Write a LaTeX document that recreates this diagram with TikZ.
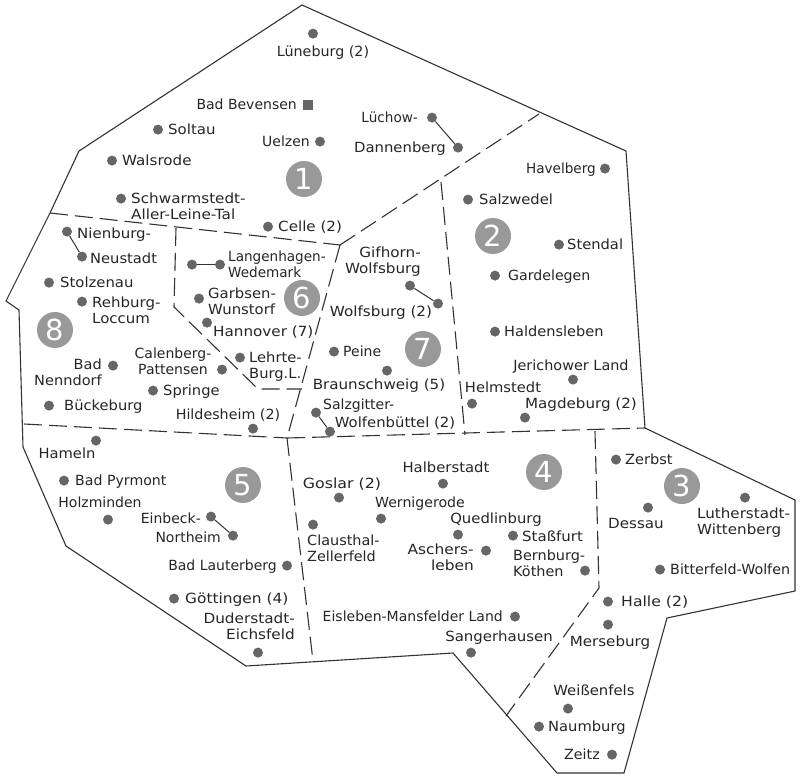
\documentclass[tikz,border=0pt]{standalone}
\usepackage{fontspec}
\setmainfont{DejaVu Sans}
\definecolor{dotc}{HTML}{666666}
\definecolor{numc}{HTML}{999999}
\definecolor{linec}{HTML}{333333}
\definecolor{txtc}{HTML}{262626}
\newcommand\st{\rule[-3pt]{0pt}{13pt}}
\tikzset{
  dot/.style={circle,fill=dotc,draw=none,minimum size=10pt,inner sep=0pt,yshift=-0.6pt},
  sq/.style={rectangle,fill=dotc,draw=none,minimum size=10pt,inner sep=0pt,yshift=-0.6pt},
  lbl/.style={inner sep=0pt,yshift=-1.3pt,text=txtc,font=\fontsize{14}{16}\selectfont,execute at begin node=\st,execute at end node=\st},
  fs/.style={font=\fontsize{14}{16}\selectfont\addfontfeatures{FakeStretch=#1}},
  num/.style={circle,fill=numc,draw=none,minimum size=36pt,inner sep=0pt,text=white,font=\fontsize{29}{32}\selectfont},
  border/.style={draw=linec,line width=1.1pt,line join=miter},
  zone/.style={draw=linec,line width=1.1pt,dash pattern=on 18pt off 7pt},
  link/.style={draw=linec,line width=1pt}
}
\begin{document}
\begin{tikzpicture}[x=1pt,y=-1pt]
\useasboundingbox[fill=white] (0,0) rectangle (800,779);
% outline
\coordinate (o1) at (302,5);
\coordinate (o2) at (626,151);
\coordinate (o3) at (645,428);
\coordinate (o4) at (795,500);
\coordinate (o5) at (795,591);
\coordinate (o6) at (667,618);
\coordinate (o7) at (624,773);
\coordinate (o8) at (557,773);
\coordinate (o9) at (453,653);
\coordinate (o10) at (246,666);
\coordinate (o11) at (66,546);
\coordinate (o12) at (23,447);
\coordinate (o13) at (19,310);
\coordinate (o14) at (6,301);
\coordinate (o15) at (50,213);
\coordinate (o16) at (79,151);
\draw[border] (o1)--(o2)--(o3)--(o4)--(o5)--(o6)--(o7)--(o8)--(o9)--(o10)--(o11)--(o12)--(o13)--(o14)--(o15)--(o16)--cycle;
% zone boundaries
\coordinate (j1) at (340,245);
\coordinate (j2) at (287,438);
\coordinate (a1) at (539,114);
\coordinate (c1) at (24,424);
\coordinate (d1) at (313,661);
\coordinate (e1) at (441,182);
\coordinate (e2) at (465,435);
\coordinate (f1) at (595,431);
\coordinate (f2) at (599,588);
\coordinate (f3) at (506,716);
\coordinate (g1) at (176,228);
\coordinate (g2) at (174,307);
\coordinate (g3) at (258,389);
\coordinate (g4) at (302,389);
\draw[zone] (o15)--(j1);
\draw[zone] (j1)--(a1);
\draw[zone] (j1)--(j2);
\draw[zone] (c1)--(j2);
\draw[zone] (j2)--(o3);
\draw[zone] (j2)--(d1);
\draw[zone] (e1)--(e2);
\draw[zone] (f1)--(f2)--(f3);
\draw[zone] (g1)--(g2)--(g3)--(g4);
% numbers
\node[num] (n1) at (304,179) {1};
\node[num] (n2) at (493,236) {2};
\node[num] (n3) at (682,486) {3};
\node[num] (n4) at (544,472) {4};
\node[num] (n5) at (243,485) {5};
\node[num] (n6) at (302,298) {6};
\node[num] (n7) at (423,349) {7};
\node[num] (n8) at (55,330) {8};
% dots and labels
\node[dot] (d01) at (313,33) {};
\node[lbl,fs=1.02] (t01) at (323,51) {Lüneburg (2)};
\node[sq] (d02) at (308,104) {};
\node[lbl,anchor=east] (t02) at (297,104) {Bad Bevensen};
\node[dot] (d03) at (158,129) {};
\node[lbl,fs=1.07,anchor=west] (t03) at (168,129) {Soltau};
\node[dot] (d04) at (320,141) {};
\node[lbl,anchor=east] (t04) at (310,141) {Uelzen};
\node[dot] (d05) at (112,160) {};
\node[lbl,fs=1.08,anchor=west] (t05) at (122,160) {Walsrode};
\node[dot] (d06a) at (432,117) {};
\node[lbl,fs=0.97,anchor=east] (t06a) at (418,117) {Lüchow-};
\node[dot] (d06b) at (458,147) {};
\node[lbl,fs=1.06,anchor=east] (t06b) at (446,147) {Dannenberg};
\draw[link] (d06a)--(d06b);
\node[dot] (d07) at (605,168) {};
\node[lbl,fs=0.97,anchor=east] (t07) at (596,168) {Havelberg};
\node[dot] (d08) at (468,199) {};
\node[lbl,fs=1.05,anchor=west] (t08) at (479,199) {Salzwedel};
\node[dot] (d09) at (121,198) {};
\node[lbl,fs=1.085,anchor=west,align=left] (t09) at (131,206) {Schwarmstedt-\\Aller-Leine-Tal};
\node[dot] (d10) at (268,226) {};
\node[lbl,fs=1.08,anchor=west] (t10) at (278,226) {Celle (2)};
\node[dot] (d11) at (559,244) {};
\node[lbl,fs=1.05,anchor=west] (t11) at (567,244) {Stendal};
\node[dot] (d12a) at (67,231) {};
\node[lbl,fs=1.07,anchor=west] (t12a) at (77,233) {Nienburg-};
\node[dot] (d12b) at (82,256) {};
\node[lbl,fs=1.05,anchor=west] (t12b) at (90,258) {Neustadt};
\draw[link] (d12a)--(d12b);
\node[dot] (d13a) at (192,264) {};
\node[dot] (d13b) at (220,264) {};
\draw[link] (d13a)--(d13b);
\node[lbl,fs=0.97,anchor=west,align=left] (t13) at (228,264) {Langenhagen-\\Wedemark};
\node[lbl,fs=1.085,anchor=east,align=right] (t14) at (421,260) {Gifhorn-\\Wolfsburg};
\node[dot] (d15) at (495,275) {};
\node[lbl,fs=1.01,anchor=west] (t15) at (508,275) {Gardelegen};
\node[dot] (d16) at (49,282) {};
\node[lbl,fs=1.06,anchor=west] (t16) at (60,282) {Stolzenau};
\node[dot] (d17) at (82,301) {};
\node[lbl,fs=1.07,anchor=west,align=left] (t17) at (92,310) {Rehburg-\\Loccum};
\node[dot] (d18) at (199,298) {};
\node[lbl,fs=1.06,anchor=west,align=left] (t18) at (208,301) {Garbsen-\\Wunstorf};
\node[dot] (d19a) at (410,285) {};
\node[dot] (d19b) at (438,303) {};
\draw[link] (d19a)--(d19b);
\node[lbl,fs=1.085] (t19) at (381,311) {Wolfsburg (2)};
\node[dot] (d20) at (207,322) {};
\node[lbl,fs=1.085,anchor=west] (t20) at (213,331) {Hannover (7)};
\node[dot] (d21) at (495,331) {};
\node[lbl,fs=1.04,anchor=west] (t21) at (504,331) {Haldensleben};
\node[dot] (d22) at (334,351) {};
\node[lbl,anchor=west] (t22) at (343,351) {Peine};
\node[dot] (d23) at (240,357) {};
\node[lbl,fs=1.05,anchor=west,align=left] (t23) at (249,365) {Lehrte-\\Burg.L.};
\node[dot] (d24) at (222,369) {};
\node[lbl,align=center] (t24) at (173,361) {Calenberg-\\Pattensen};
\node[dot] (d25) at (113,365) {};
\node[lbl,fs=1.04,anchor=east,align=right] (t25) at (102,372) {Bad\\Nenndorf};
\node[dot] (d26) at (387,370) {};
\node[lbl,fs=1.08] (t26) at (379,384) {Braunschweig (5)};
\node[dot] (d27) at (573,379) {};
\node[lbl,fs=1.03] (t27) at (571,365) {Jerichower Land};
\node[dot] (d28) at (153,390) {};
\node[lbl,fs=1.05,anchor=west] (t28) at (163,390) {Springe};
\node[dot] (d29) at (472,403) {};
\node[lbl,fs=1.05] (t29) at (503,387) {Helmstedt};
\node[dot] (d30) at (49,405) {};
\node[lbl,fs=1.05,anchor=west] (t30) at (64,405) {Bückeburg};
\node[dot] (d31a) at (316,412) {};
\node[dot] (d31b) at (330,431) {};
\draw[link] (d31a)--(d31b);
\node[lbl,anchor=west] (t31a) at (323,404) {Salzgitter-};
\node[lbl,fs=1.06] (t31b) at (395,422) {Wolfenbüttel (2)};
\node[dot] (d32) at (525,417) {};
\node[lbl,fs=1.08] (t32) at (581,403) {Magdeburg (2)};
\node[dot] (d33) at (253,428) {};
\node[lbl,fs=1.02] (t33) at (228,414) {Hildesheim (2)};
\node[dot] (d34) at (96,440) {};
\node[lbl,fs=1.05] (t34) at (67,453) {Hameln};
\node[dot] (d35) at (616,459) {};
\node[lbl,fs=1.04,anchor=west] (t35) at (625,459) {Zerbst};
\node[dot] (d36) at (443,483) {};
\node[lbl,fs=1.06] (t36) at (446,467) {Halberstadt};
\node[dot] (d37) at (64,480) {};
\node[lbl,fs=1.01,anchor=west] (t37) at (75,480) {Bad Pyrmont};
\node[dot] (d38) at (108,519) {};
\node[lbl] (t38) at (100,502) {Holzminden};
\node[dot] (d39) at (339,497) {};
\node[lbl,fs=1.13] (t39) at (342,483) {Goslar (2)};
\node[dot] (d40) at (745,497) {};
\node[lbl,fs=1.08,anchor=west,align=left] (t40) at (697,521) {Lutherstadt-\\Wittenberg};
\node[dot] (d41) at (648,507) {};
\node[lbl,fs=1.08] (t41) at (636,524) {Dessau};
\node[dot] (d42) at (381,518) {};
\node[lbl,fs=1.01] (t42) at (420,502) {Wernigerode};
\node[dot] (d43a) at (211,516) {};
\node[dot] (d43b) at (233,535) {};
\draw[link] (d43a)--(d43b);
\node[lbl,anchor=east] (t43a) at (201,518) {Einbeck-};
\node[lbl,anchor=east] (t43b) at (221,537) {Northeim};
\node[dot] (d44) at (458,534) {};
\node[lbl,fs=1.06] (t44) at (496,518) {Quedlinburg};
\node[dot] (d45) at (513,535) {};
\node[lbl,fs=1.07,anchor=west] (t45) at (522,536) {Staßfurt};
\node[dot] (d46) at (313,524) {};
\node[lbl,fs=1.03,anchor=west,align=left] (t46) at (307,548) {Clausthal-\\Zellerfeld};
\node[dot] (d47) at (486,550) {};
\node[lbl,fs=1.1,anchor=east,align=right] (t47) at (474,557) {Aschers-\\leben};
\node[dot] (d48) at (585,570) {};
\node[lbl,fs=1.03,anchor=west,align=left] (t48) at (513,563) {Bernburg-\\Köthen};
\node[dot] (d49) at (287,565) {};
\node[lbl,anchor=east] (t49) at (277,565) {Bad Lauterberg};
\node[dot] (d50) at (660,569) {};
\node[lbl,fs=1.02,anchor=west] (t50) at (670,569) {Bitterfeld-Wolfen};
\node[dot] (d51) at (174,598) {};
\node[lbl,fs=1.1,anchor=west] (t51) at (185,598) {Göttingen (4)};
\node[dot] (d52) at (608,601) {};
\node[lbl,fs=1.12,anchor=west] (t52) at (621,601) {Halle (2)};
\node[dot] (d53) at (515,616) {};
\node[lbl,anchor=east] (t53) at (503,616) {Eisleben-Mansfelder Land};
\node[dot] (d54) at (258,652) {};
\node[lbl,fs=1.09,anchor=east,align=right] (t54) at (295,626) {Duderstadt-\\Eichsfeld};
\node[dot] (d55) at (608,624) {};
\node[lbl,fs=1.08] (t55) at (610,641) {Merseburg};
\node[dot] (d56) at (471,652) {};
\node[lbl,fs=1.07] (t56) at (499,636) {Sangerhausen};
\node[dot] (d57) at (568,708) {};
\node[lbl,fs=1.06] (t57) at (594,690) {Weißenfels};
\node[dot] (d58) at (539,726) {};
\node[lbl,fs=1.05,anchor=west] (t58) at (548,726) {Naumburg};
\node[dot] (d59) at (612,754) {};
\node[lbl,fs=1.02,anchor=east] (t59) at (600,754) {Zeitz};
\end{tikzpicture}
\end{document}
